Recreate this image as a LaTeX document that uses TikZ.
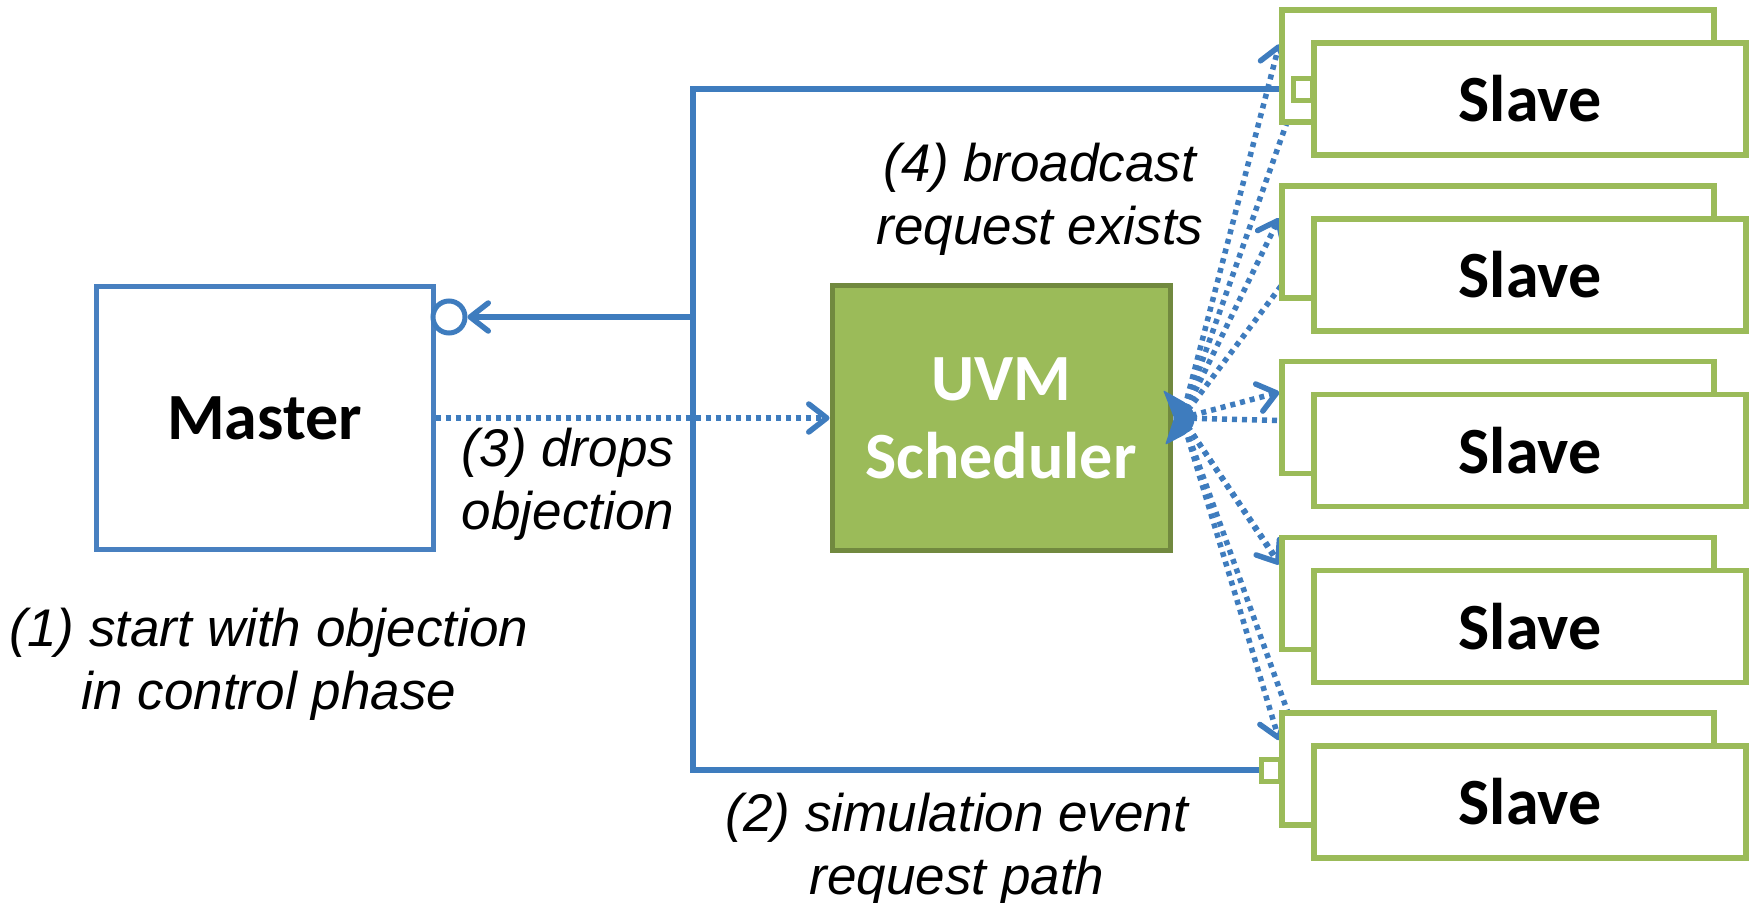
\documentclass[tikz,border=0pt]{standalone}
\usepackage{fontspec}
\newfontfamily\labelfont{Liberation Sans}
\newfontfamily\boxfont{Carlito}
\usetikzlibrary{arrows.meta,calc}
\pgfdeclarelayer{wires}
\pgfsetlayers{wires,main}
\definecolor{linkblue}{RGB}{62,124,190}
\definecolor{masterblue}{RGB}{72,128,192}
\definecolor{slavegreen}{RGB}{155,187,89}
\definecolor{schedfill}{RGB}{155,187,89}
\definecolor{schedborder}{RGB}{113,137,63}
\begin{document}
\begin{tikzpicture}[x=1pt,y=-1pt,
  boxfontstyle/.style={font=\boxfont\bfseries\fontsize{66}{78}\selectfont},
  labelstyle/.style={font=\labelfont\itshape\fontsize{53}{63}\selectfont, align=center, inner sep=0pt},
  masterbox/.style={rectangle, draw=masterblue, line width=5pt, fill=white,
    minimum width=337pt, minimum height=263pt, inner sep=0pt, boxfontstyle},
  schedbox/.style={rectangle, draw=schedborder, line width=5pt, fill=schedfill, text=white,
    minimum width=338pt, minimum height=265pt, inner sep=0pt, align=center, boxfontstyle},
  slavebox/.style={rectangle, draw=slavegreen, line width=5.5pt, fill=white,
    minimum width=432pt, minimum height=112pt, inner sep=0pt, boxfontstyle},
  portbox/.style={rectangle, draw=slavegreen, line width=5pt, fill=white,
    minimum width=19pt, minimum height=22pt, inner sep=0pt},
  portcircle/.style={circle, draw=linkblue, line width=5pt, fill=white,
    minimum size=32pt, inner sep=0pt},
  wire/.style={draw=linkblue, line width=5.5pt},
  dotwire/.style={draw=linkblue, line width=5.5pt, dash pattern=on 5pt off 5pt},
  openarrow/.style={-{Straight Barb[length=18pt, width=28pt, line width=5.5pt, round]}}
]
\useasboundingbox (0,0) rectangle (1752,902);
\begin{pgfonlayer}{wires}
  \fill[white] (0,0) rectangle (1752,902);
\end{pgfonlayer}

% master and scheduler
\node[masterbox] (master) at (264.5,418) {Master};
\node[portcircle] (circ) at (449,317) {};
\node[schedbox] (sched) at (1001,418) {UVM\\Scheduler};

% stacked slave boxes
\foreach \i/\t in {1/10,2/185.75,3/361.5,4/537.25,5/713}{
  \node[slavebox] (back\i) at (1498,\t+56) {};
  \node[slavebox] (front\i) at (1530,\t+89) {Slave};
}
\node[portbox] (port1) at (1303,89) {};
\node[portbox] (port5) at (1271,770) {};

% labels
\node[labelstyle] (lab4) at (1040,199) {(4) broadcast\\request exists};
\node[labelstyle] (lab3) at (568,484) {(3) drops\\objection};
\node[labelstyle] (lab1) at (269,664) {(1) start with objection\\in control phase};
\node[labelstyle] (lab2) at (957,849) {(2) simulation event\\request path};

% connectors
\coordinate (jt) at (693,89);
\coordinate (jm) at (693,317);
\coordinate (jb) at (693,770);
\coordinate (fan) at (1182,418);
\begin{pgfonlayer}{wires}
  \draw[wire, line join=miter] (port1.west) -- (jt) -- (jb) -- (port5.west);
  \draw[wire, openarrow] (jm) -- (circ.east);
  \draw[dotwire, openarrow] (master.east) -- (sched.west);
  \foreach \i/\a/\px/\py in {1/37/18/86, 2/35/16/84, 3/33.5/8/62, 4/30/8/40, 5/30/14/17}{
    \draw[dotwire, openarrow] (fan) -- ($(back\i.north west)+(0,\a)$);
    \draw[dotwire] (fan) -- ($(back\i.north west)+(\px,\py)$);
  }
\end{pgfonlayer}
% joined tails of the broadcast lines
\fill[linkblue, rounded corners=2pt] (1163,390) -- (1186,403) -- (1194,412) -- (1194,425)
  -- (1186,434) -- (1165,445) -- (1174,418) -- cycle;
\end{tikzpicture}
\end{document}
